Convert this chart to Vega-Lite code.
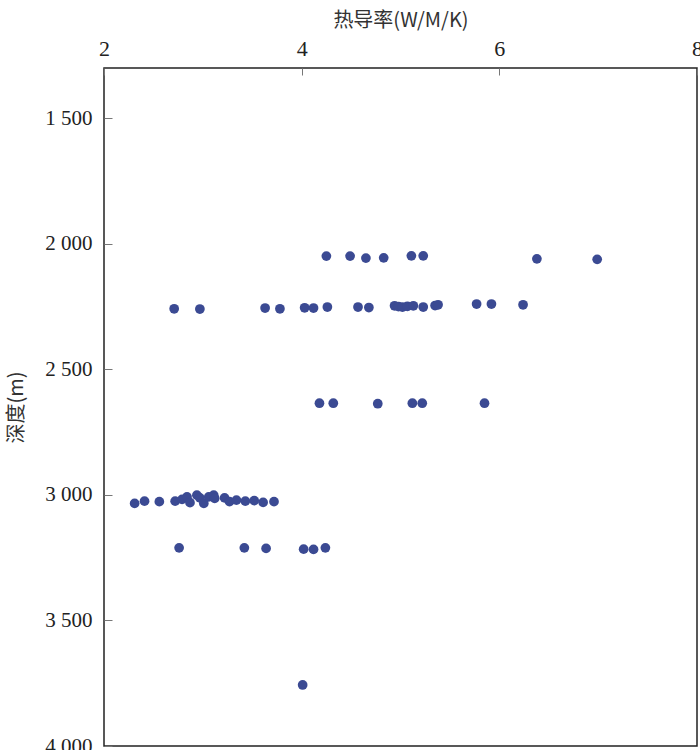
{
  "$schema": "https://vega.github.io/schema/vega-lite/v6.json",
  "width": 593,
  "height": 678,
  "autosize": {"type": "none"},
  "padding": {"left": 104, "top": 68, "right": 3, "bottom": 4},
  "background": "white",
  "config": {"view": {"stroke": "#222", "strokeWidth": 1.5}},
  "data": {"values": [
    {"k": 4.25, "d": 2049}, {"k": 4.49, "d": 2049}, {"k": 4.65, "d": 2057}, {"k": 4.83, "d": 2056},
    {"k": 5.11, "d": 2048}, {"k": 5.23, "d": 2048}, {"k": 6.38, "d": 2060}, {"k": 6.99, "d": 2062},
    {"k": 2.71, "d": 2259}, {"k": 2.97, "d": 2260}, {"k": 3.63, "d": 2256}, {"k": 3.78, "d": 2259},
    {"k": 4.03, "d": 2255}, {"k": 4.12, "d": 2256}, {"k": 4.26, "d": 2252}, {"k": 4.57, "d": 2252},
    {"k": 4.68, "d": 2254}, {"k": 4.94, "d": 2247}, {"k": 4.98, "d": 2250}, {"k": 5.02, "d": 2252},
    {"k": 5.07, "d": 2249}, {"k": 5.13, "d": 2247}, {"k": 5.23, "d": 2252}, {"k": 5.35, "d": 2246},
    {"k": 5.38, "d": 2243}, {"k": 5.77, "d": 2240}, {"k": 5.92, "d": 2240}, {"k": 6.24, "d": 2243},
    {"k": 4.18, "d": 2635}, {"k": 4.32, "d": 2635}, {"k": 4.77, "d": 2637}, {"k": 5.12, "d": 2635},
    {"k": 5.22, "d": 2635}, {"k": 5.85, "d": 2635},
    {"k": 2.31, "d": 3034}, {"k": 2.41, "d": 3025}, {"k": 2.56, "d": 3027}, {"k": 2.72, "d": 3025},
    {"k": 2.79, "d": 3018}, {"k": 2.84, "d": 3008}, {"k": 2.87, "d": 3031}, {"k": 2.94, "d": 3001},
    {"k": 2.97, "d": 3012}, {"k": 3.01, "d": 3034}, {"k": 3.06, "d": 3008}, {"k": 3.11, "d": 3001},
    {"k": 3.12, "d": 3014}, {"k": 3.22, "d": 3012}, {"k": 3.27, "d": 3027}, {"k": 3.34, "d": 3021},
    {"k": 3.43, "d": 3025}, {"k": 3.52, "d": 3023}, {"k": 3.61, "d": 3030}, {"k": 3.72, "d": 3027},
    {"k": 2.76, "d": 3211}, {"k": 3.42, "d": 3211}, {"k": 3.64, "d": 3213}, {"k": 4.02, "d": 3216},
    {"k": 4.12, "d": 3217}, {"k": 4.24, "d": 3211},
    {"k": 4.01, "d": 3757}, {"k": 3.78, "d": 4020}
  ]},
  "mark": {"type": "circle", "size": 95, "opacity": 1, "color": "#3b4a93", "clip": true},
  "encoding": {
    "x": {
      "field": "k", "type": "quantitative",
      "scale": {"domain": [2, 8], "nice": false, "zero": false},
      "axis": {
        "orient": "top", "values": [2, 4, 6, 8], "title": "热导率(W/M/K)",
        "titleFont": "Noto Sans CJK SC", "titleFontSize": 20, "titleFontWeight": "normal",
        "titleColor": "#333", "titlePadding": 7,
        "labelFont": "Liberation Serif", "labelFontSize": 22, "labelColor": "#222",
        "labelPadding": 15, "labelFlush": false, "labelOverlap": false,
        "tickSize": -7, "tickColor": "#777", "tickWidth": 1, "domain": false, "grid": false
      }
    },
    "y": {
      "field": "d", "type": "quantitative",
      "scale": {"domain": [1300, 4000], "nice": false, "zero": false, "reverse": true},
      "axis": {
        "values": [1500, 2000, 2500, 3000, 3500, 4000], "title": "深度(m)",
        "labelExpr": "replace(format(datum.value, ','), ',', ' ')",
        "titleFont": "Noto Sans CJK SC", "titleFontSize": 20, "titleFontWeight": "normal",
        "titleColor": "#333", "titlePadding": 18,
        "labelFont": "Liberation Serif", "labelFontSize": 21, "labelColor": "#222",
        "labelPadding": 20, "labelFlush": false, "labelOverlap": false,
        "tickSize": -8, "tickColor": "#777", "tickWidth": 1, "domain": false, "grid": false
      }
    }
  }
}
